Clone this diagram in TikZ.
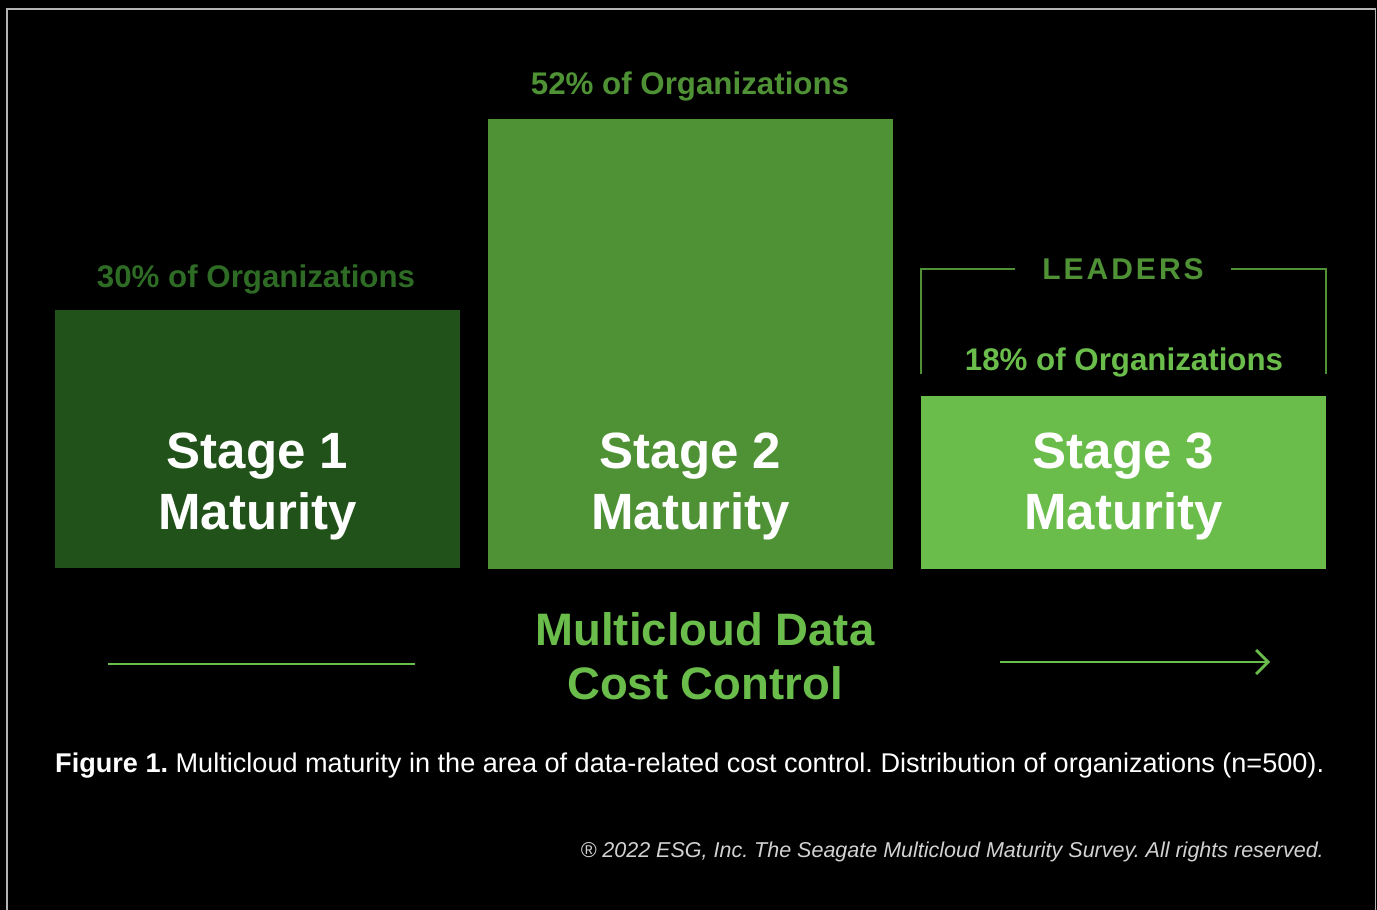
\documentclass[tikz,border=0pt]{standalone}
\usepackage{fontspec}
\setmainfont{Liberation Sans}
\usetikzlibrary{arrows.meta}
\definecolor{gOne}{HTML}{215219}
\definecolor{gTwo}{HTML}{4F9235}
\definecolor{gThree}{HTML}{6ABD4A}
\definecolor{tOne}{HTML}{2E6B25}
\definecolor{frameg}{HTML}{B4B4B4}
\definecolor{copyg}{HTML}{D2D2D2}
\frenchspacing
\begin{document}
\begin{tikzpicture}[x=1pt,y=-1pt,
  bar/.style={rectangle,inner sep=0pt,anchor=north west,draw=none},
  stagetxt/.style={text=white,font=\fontsize{51}{61}\selectfont\bfseries,align=center,anchor=base,inner sep=0pt},
  pct/.style={font=\fontsize{31.3}{36}\selectfont\bfseries,anchor=base,inner sep=0pt},
  bracket/.style={draw=gTwo,line width=2.2pt},
  axisline/.style={draw=gThree,line width=2.8pt}]
\fill[black] (0,0) rectangle (1377,910);
\useasboundingbox (0,0) rectangle (1377,910);
\draw[frameg,line width=1.6pt] (7,910) -- (7,9) -- (1375.5,9) -- (1375.5,910);
% bars
\node[bar,fill=gOne,minimum width=405pt,minimum height=258pt] (b1) at (55,310) {};
\node[bar,fill=gTwo,minimum width=405pt,minimum height=450pt] (b2) at (488,119) {};
\node[bar,fill=gThree,minimum width=405pt,minimum height=173pt] (b3) at (921,396) {};
% stage labels (anchor base = last line baseline)
\node[stagetxt] (s1) at (257.5,529) {Stage 1\\Maturity};
\node[stagetxt] (s2) at (690.5,529) {Stage 2\\Maturity};
\node[stagetxt] (s3) at (1123.5,529) {Stage 3\\Maturity};
% percentages
\node[pct,text=tOne] (p1) at (256,287) {30\% of Organizations};
\node[pct,text=gTwo] (p2) at (690,94) {52\% of Organizations};
\node[pct,text=gThree] (p3) at (1124,370) {18\% of Organizations};
% leaders bracket
\node[pct,text=gTwo,font=\fontsize{30}{36}\selectfont\bfseries\addfontfeature{LetterSpace=10}] (ld) at (1123,279) {LEADERS};
\coordinate (bl0) at (921,374);
\coordinate (bl1) at (921,269);
\coordinate (bl2) at (1015,269);
\coordinate (br0) at (1326,374);
\coordinate (br1) at (1326,269);
\coordinate (br2) at (1231,269);
\draw[bracket] (bl0) -- (bl1) -- (bl2);
\draw[bracket] (br0) -- (br1) -- (br2);
% axis
\node[text=gThree,font=\fontsize{45.5}{54}\selectfont\bfseries,align=center,anchor=base,inner sep=0pt] (ax) at (705,699) {Multicloud Data\\Cost Control};
\coordinate (la) at (108,664);
\coordinate (lb) at (415,664);
\coordinate (ra) at (1000,662);
\coordinate (rb) at (1270,662);
\draw[axisline] (la) -- (lb);
\draw[axisline,-{Straight Barb[length=12pt,width=24pt,line width=2.8pt]}] (ra) -- (rb);
% caption
\node[text=white,font=\fontsize{27.1}{32}\selectfont,anchor=base west,inner sep=0pt] (cap) at (55,772) {\textbf{Figure 1.} Multicloud maturity in the area of data-related cost control. Distribution of organizations (n=500).};
\node[text=copyg,font=\fontsize{21.5}{25}\selectfont\itshape,anchor=base east,inner sep=0pt] (cr) at (1324,857) {® 2022 ESG, Inc. The Seagate Multicloud Maturity Survey. All rights reserved.};
\end{tikzpicture}
\end{document}
